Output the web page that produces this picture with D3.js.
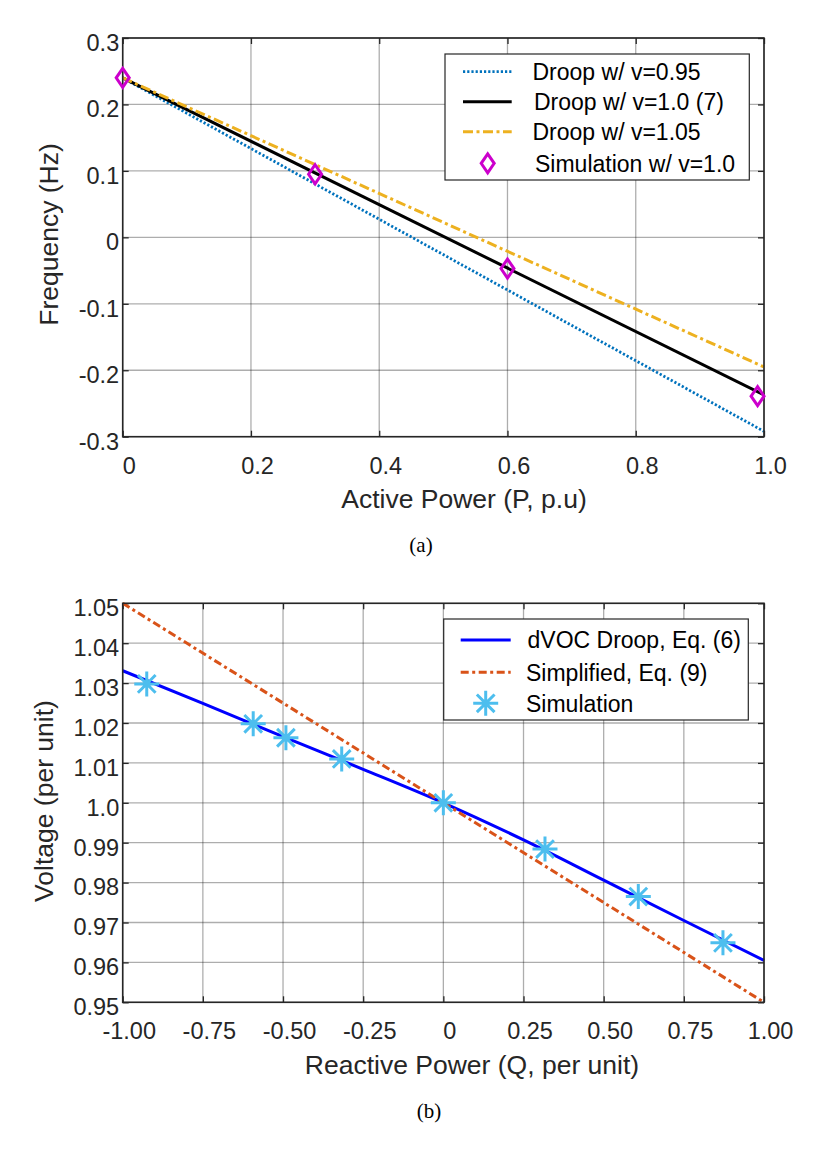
<!DOCTYPE html>
<html>
<head>
<meta charset="utf-8">
<script src="https://cdn.jsdelivr.net/npm/d3@7"></script>
<style>
  html, body { margin: 0; padding: 0; background: #fff; }
  svg { display: block; }
  text { fill: #262626; }
  .sans { font-family: "Liberation Sans", Arial, sans-serif; }
  .serif { font-family: "Liberation Serif", "Times New Roman", serif; }
</style>
</head>
<body>
<svg id="chart" width="830" height="1156" class="sans"></svg>
<script>
// ---------- Panel (a) data ----------
const topLineP = [0, 1];
const droop095 = [0.24, -0.292];
const droop100 = [0.24, -0.237];
const droop105 = [0.24, -0.195];
const simP = [0, 0.30, 0.60, 0.99];
const simF = [0.24, 0.095, -0.047, -0.239];
const topXTicks = [0, 0.2, 0.4, 0.6, 0.8, 1.0];
const topXLabels = ["0", "0.2", "0.4", "0.6", "0.8", "1.0"];
const topYTicks = [0.3, 0.2, 0.1, 0, -0.1, -0.2, -0.3];
const topYLabels = ["0.3", "0.2", "0.1", "0", "-0.1", "-0.2", "-0.3"];
const topLegend = ["Droop w/ v=0.95", "Droop w/ v=1.0 (7)", "Droop w/ v=1.05", "Simulation w/ v=1.0"];

// ---------- Panel (b) data ----------
const dvocQ = [-1, -0.75, -0.5, -0.25, 0, 0.25, 0.5, 0.75, 1];
const dvocV = [1.0331, 1.0249, 1.0166, 1.0084, 1.0, 0.9907, 0.9806, 0.9705, 0.9605];
const simpQ = [-1, 1];
const simpV = [1.05, 0.95];
const simQ = [-0.925, -0.593, -0.491, -0.317, 0, 0.317, 0.608, 0.872];
const simV = [1.0298, 1.0198, 1.0163, 1.011, 1.0, 0.9884, 0.9765, 0.9649];
const botXTicks = [-1, -0.75, -0.5, -0.25, 0, 0.25, 0.5, 0.75, 1];
const botXLabels = ["-1.00", "-0.75", "-0.50", "-0.25", "0", "0.25", "0.50", "0.75", "1.00"];
const botYTicks = [1.05, 1.04, 1.03, 1.02, 1.01, 1.0, 0.99, 0.98, 0.97, 0.96, 0.95];
const botYLabels = ["1.05", "1.04", "1.03", "1.02", "1.01", "1.0", "0.99", "0.98", "0.97", "0.96", "0.95"];
const botLegend = ["dVOC Droop, Eq. (6)", "Simplified, Eq. (9)", "Simulation"];

const svg = d3.select("#chart");
const TICK_FS = 23.5, TITLE_FS = 26.5;

function drawFrame(g, x, y, xTicks, xLabels, yTicks, yLabels) {
  const [x0, x1] = x.range();
  const [y0, y1] = y.range();
  g.append("g").selectAll("line").data(xTicks).join("line")
    .attr("x1", d => x(d)).attr("x2", d => x(d)).attr("y1", y1).attr("y2", y0)
    .attr("stroke", "#000").attr("stroke-opacity", 0.32).attr("stroke-width", 1.3);
  g.append("g").selectAll("line").data(yTicks).join("line")
    .attr("y1", d => y(d)).attr("y2", d => y(d)).attr("x1", x0).attr("x2", x1)
    .attr("stroke", "#000").attr("stroke-opacity", 0.32).attr("stroke-width", 1.3);
  const xb = g.append("g").attr("transform", `translate(0,${y0})`)
    .call(d3.axisBottom(x).tickValues(xTicks).tickSize(-6).tickFormat((d, i) => xLabels[i]));
  const xt = g.append("g").attr("transform", `translate(0,${y1})`)
    .call(d3.axisTop(x).tickValues(xTicks).tickSize(-6).tickFormat(""));
  const yl = g.append("g").attr("transform", `translate(${x0},0)`)
    .call(d3.axisLeft(y).tickValues(yTicks).tickSize(-6).tickFormat((d, i) => yLabels[i]));
  const yr = g.append("g").attr("transform", `translate(${x1},0)`)
    .call(d3.axisRight(y).tickValues(yTicks).tickSize(-6).tickFormat(""));
  [xb, xt, yl, yr].forEach(a => {
    a.attr("font-family", null).attr("font-size", null);
    a.select(".domain").remove();
    a.selectAll(".tick line").attr("stroke", "#262626").attr("stroke-width", 1.3);
  });
  xb.selectAll(".tick text").attr("font-size", TICK_FS).attr("fill", "#262626")
    .attr("y", 37).attr("dy", 0).attr("dx", 6).attr("text-anchor", "middle");
  yl.selectAll(".tick text").attr("font-size", TICK_FS).attr("fill", "#262626")
    .attr("x", -3.5).attr("dy", 12.3).attr("text-anchor", "end");
  return { x0, x1, y0, y1 };
}

function drawBox(g, f) {
  g.append("rect").attr("x", f.x0).attr("y", f.y1)
    .attr("width", f.x1 - f.x0).attr("height", f.y0 - f.y1)
    .attr("fill", "none").attr("stroke", "#262626").attr("stroke-width", 1.6);
}

function diamond(g, cx, cy) {
  g.append("path")
    .attr("d", `M${cx},${cy - 9.5}L${cx + 6.5},${cy}L${cx},${cy + 9.5}L${cx - 6.5},${cy}Z`)
    .attr("fill", "none").attr("stroke", "#cc00cc").attr("stroke-width", 3);
}
function star(g, cx, cy) {
  const r = 12.5, d = r * Math.SQRT1_2;
  g.append("path")
    .attr("d", `M${cx - r},${cy}H${cx + r}M${cx},${cy - r}V${cy + r}` +
      `M${cx - d},${cy - d}L${cx + d},${cy + d}M${cx - d},${cy + d}L${cx + d},${cy - d}`)
    .attr("fill", "none").attr("stroke", "#4DBEEE").attr("stroke-width", 3);
}

// ================= Panel (a) =================
{
  const g = svg.append("g");
  const x = d3.scaleLinear().domain([0, 1]).range([122.7, 764]);
  const y = d3.scaleLinear().domain([-0.3, 0.3]).range([436.7, 38]);
  const f = drawFrame(g, x, y, topXTicks, topXLabels, topYTicks, topYLabels);

  const line = d3.line().x(d => x(d[0])).y(d => y(d[1]));
  const series = [
    { v: droop095, color: "#0072BD", dash: "2.2,2", w: 2.8 },
    { v: droop100, color: "#000000", dash: null, w: 3 },
    { v: droop105, color: "#EDB120", dash: "10,3.5,3,3.5", w: 3 }
  ];
  series.forEach(s => {
    g.append("path").datum(topLineP.map((p, i) => [p, s.v[i]]))
      .attr("d", line).attr("fill", "none").attr("stroke", s.color)
      .attr("stroke-width", s.w).attr("stroke-dasharray", s.dash);
  });
  drawBox(g, f);
  simP.forEach((p, i) => diamond(g, x(p), y(simF[i])));

  const lg = g.append("g");
  lg.append("rect").attr("x", 445).attr("y", 54).attr("width", 304.3).attr("height", 126)
    .attr("fill", "#fff").attr("stroke", "#262626").attr("stroke-width", 1.2);
  const ly = [71.7, 101.7, 131.7, 163.3];
  const tx = [532.5, 534, 532.5, 535];
  series.forEach((s, i) => {
    lg.append("line").attr("x1", 463).attr("x2", 511.7).attr("y1", ly[i]).attr("y2", ly[i])
      .attr("stroke", s.color).attr("stroke-width", s.w).attr("stroke-dasharray", s.dash);
  });
  diamond(lg, 487.7, ly[3]);
  topLegend.forEach((t, i) => {
    lg.append("text").attr("x", tx[i]).attr("y", ly[i] + 8.2).attr("font-size", 23)
      .style("fill", "#000").text(t);
  });

  g.append("text").attr("x", 464).attr("y", 508.3).attr("text-anchor", "middle")
    .attr("font-size", TITLE_FS).text("Active Power (P, p.u)");
  g.append("text").attr("transform", "translate(58,234.5) rotate(-90)")
    .attr("text-anchor", "middle").attr("font-size", TITLE_FS).text("Frequency (Hz)");
  g.append("text").attr("class", "serif").attr("x", 421).attr("y", 551.5)
    .attr("text-anchor", "middle").style("fill", "#000")
    .attr("font-size", 21).text("(a)");
}

// ================= Panel (b) =================
{
  const g = svg.append("g");
  const x = d3.scaleLinear().domain([-1, 1]).range([122.7, 764]);
  const y = d3.scaleLinear().domain([0.95, 1.05]).range([1002.3, 603.3]);
  const f = drawFrame(g, x, y, botXTicks, botXLabels, botYTicks, botYLabels);

  const simpLine = d3.line().x(d => x(d[0])).y(d => y(d[1]));
  const dvocLine = d3.line().x(d => x(d[0])).y(d => y(d[1])).curve(d3.curveMonotoneX);
  g.append("path").datum(dvocQ.map((q, i) => [q, dvocV[i]]))
    .attr("d", dvocLine).attr("fill", "none").attr("stroke", "#0000FF").attr("stroke-width", 3);
  g.append("path").datum(simpQ.map((q, i) => [q, simpV[i]]))
    .attr("d", simpLine).attr("fill", "none").attr("stroke", "#D95319")
    .attr("stroke-width", 3).attr("stroke-dasharray", "8,3.5,3,3.5");
  drawBox(g, f);
  simQ.forEach((q, i) => star(g, x(q), y(simV[i])));

  const lg = g.append("g");
  lg.append("rect").attr("x", 443.7).attr("y", 619).attr("width", 304.6).attr("height", 101)
    .attr("fill", "#fff").attr("stroke", "#262626").attr("stroke-width", 1.2);
  const ly = [640, 672.3, 703.3];
  lg.append("line").attr("x1", 460.7).attr("x2", 510.7).attr("y1", ly[0]).attr("y2", ly[0])
    .attr("stroke", "#0000FF").attr("stroke-width", 3);
  lg.append("line").attr("x1", 460.7).attr("x2", 510.7).attr("y1", ly[1]).attr("y2", ly[1])
    .attr("stroke", "#D95319").attr("stroke-width", 3).attr("stroke-dasharray", "8,3.5,3,3.5");
  star(lg, 485.7, ly[2]);
  const tx = [527.5, 526, 526];
  botLegend.forEach((t, i) => {
    lg.append("text").attr("x", tx[i]).attr("y", ly[i] + 8.2).attr("font-size", 23)
      .style("fill", "#000").text(t);
  });

  g.append("text").attr("x", 472).attr("y", 1074.3).attr("text-anchor", "middle")
    .attr("font-size", TITLE_FS).text("Reactive Power (Q, per unit)");
  g.append("text").attr("transform", "translate(53,801) rotate(-90)")
    .attr("text-anchor", "middle").attr("font-size", TITLE_FS).text("Voltage (per unit)");
  g.append("text").attr("class", "serif").attr("x", 429).attr("y", 1117.5)
    .attr("text-anchor", "middle").style("fill", "#000")
    .attr("font-size", 21).text("(b)");
}
</script>
</body>
</html>
